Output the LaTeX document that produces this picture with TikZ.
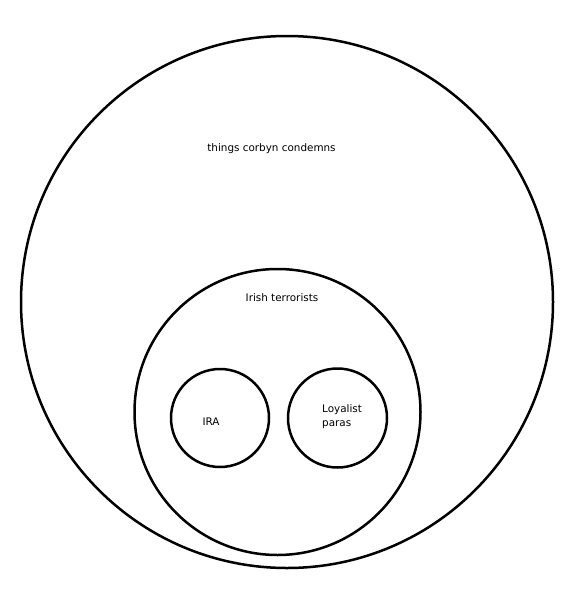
\documentclass[tikz,border=0pt]{standalone}
\usepackage{fontspec}
\setmainfont{DejaVu Sans}
\begin{document}
\begin{tikzpicture}[x=1pt,y=-1pt,
  ring/.style={draw=black,line width=2.5pt,circle,inner sep=0pt},
  lbl/.style={font=\fontsize{10.4}{14}\selectfont,inner sep=0pt}]
\useasboundingbox (0,0) rectangle (569,600);
\node[ring,minimum size=532pt] (outer) at (287,302) {};
\node[ring,minimum size=286pt] (irish) at (277.5,412) {};
\node[ring,minimum size=98pt] (ira) at (220,418) {};
\node[ring,minimum size=99pt] (loyal) at (337.5,418) {};
\node[lbl,anchor=mid] (tcc) at (271.5,149) {things corbyn condemns};
\node[lbl,anchor=mid] (tirish) at (282,299) {Irish terrorists};
\node[lbl,anchor=mid] (tira) at (211,423) {IRA};
\node[lbl,anchor=west,align=left] (tloyal) at (322,417) {Loyalist\\paras};
\end{tikzpicture}
\end{document}
